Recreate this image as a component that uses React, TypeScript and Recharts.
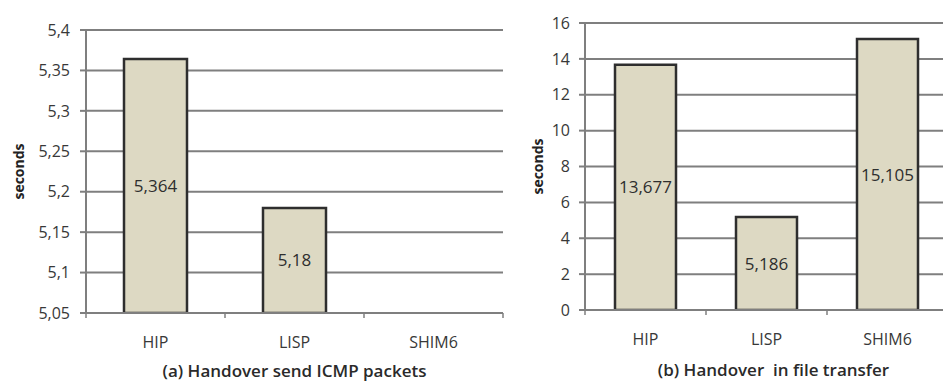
import { BarChart, Bar, XAxis, YAxis, CartesianGrid, LabelList } from "recharts";

const categories = ["HIP", "LISP", "SHIM6"];
const icmpSeconds = [5.364, 5.18, null];
const fileSeconds = [13.677, 5.186, 15.105];
const icmpTicks = [5.05, 5.1, 5.15, 5.2, 5.25, 5.3, 5.35, 5.4];
const fileTicks = [0, 2, 4, 6, 8, 10, 12, 14, 16];

const FONT = "'Open Sans', 'Liberation Sans', sans-serif";
const TEXT = "#383838";
const GRID = "#7f7f7f";

const comma = (v: any) => (v === null || v === undefined ? "" : String(v).replace(".", ","));

const CatTick = (props: any) => {
  const { x, y, payload, index, visibleTicksCount } = props;
  const half = payload?.offset ?? 0;
  return (
    <g>
      <line x1={x - half} x2={x - half} y1={y} y2={y + 5} stroke={GRID} strokeWidth={1.5} />
      {index === visibleTicksCount - 1 && (
        <line x1={x + half} x2={x + half} y1={y} y2={y + 5} stroke={GRID} strokeWidth={1.5} />
      )}
      <text x={x} y={y + 35} textAnchor="middle" fill={TEXT} fontSize={16} fontFamily={FONT}>
        {payload.value}
      </text>
    </g>
  );
};

const axisTitle = (dx: number) => (p: any) => {
  const vb = p.viewBox;
  const cx = vb.x + dx;
  const cy = vb.y + vb.height / 2;
  return (
    <text
      x={cx}
      y={cy}
      transform={`rotate(-90, ${cx}, ${cy})`}
      textAnchor="middle"
      dominantBaseline="central"
      fill="#222"
      fontSize={14}
      fontWeight="bold"
      fontFamily={FONT}
    >
      seconds
    </text>
  );
};

const caption = (text: string, shift: number, dy: number) => (p: any) => {
  const vb = p.viewBox;
  return (
    <text
      x={vb.x + vb.width / 2 + shift}
      y={vb.y + dy}
      textAnchor="middle"
      fill="#2a2a2a"
      fontSize={17}
      fontWeight={600}
      fontFamily={FONT}
      style={{ whiteSpace: "pre" }}
    >
      {text}
    </text>
  );
};

function Panel({
  values,
  ticks,
  domain,
  width,
  margin,
  xHeight,
  barSize,
  labelDx,
  tickMargin,
  title,
  titleShift,
  titleDy,
}: any) {
  const data = categories.map((c, i) => ({ name: c, value: values[i] }));
  return (
    <BarChart width={width} height={381} data={data} margin={margin} barCategoryGap={0}>
      <CartesianGrid vertical={false} stroke={GRID} strokeWidth={2} />
      <XAxis
        dataKey="name"
        height={xHeight}
        tickLine={false}
        tickSize={0}
        tickMargin={0}
        stroke={GRID}
        strokeWidth={2}
        tick={<CatTick />}
        interval={0}
        label={{ content: caption(title, titleShift, titleDy) }}
      />
      <YAxis
        width={72}
        domain={domain}
        ticks={ticks}
        allowDataOverflow
        interval={0}
        stroke={GRID}
        strokeWidth={2}
        tickSize={6}
        tickMargin={tickMargin}
        tickFormatter={comma}
        tick={{ fill: TEXT, fontSize: 16, fontFamily: FONT }}
        label={{ content: axisTitle(labelDx) }}
      />
      <Bar
        dataKey="value"
        fill="#ddd9c3"
        stroke="#2e2e2e"
        strokeWidth={2.5}
        barSize={barSize}
        isAnimationActive={false}
      >
        <LabelList
          dataKey="value"
          position="center"
          formatter={comma}
          fill="#2e2e2e"
          fontSize={17}
          fontFamily={FONT}
        />
      </Bar>
    </BarChart>
  );
}

export default function App() {
  return (
    <div
      style={{
        position: "absolute",
        left: 0,
        top: 0,
        width: 943,
        height: 381,
        overflow: "hidden",
        background: "#fff",
      }}
    >
      <div style={{ position: "absolute", left: 0, top: 0 }}>
        <Panel
          values={icmpSeconds}
          ticks={icmpTicks}
          domain={[5.05, 5.4]}
          width={510}
          margin={{ top: 30, right: 7, bottom: 0, left: 14 }}
          xHeight={68}
          barSize={63}
          labelDx={4}
          tickMargin={10}
          title="(a) Handover send ICMP packets"
          titleShift={0}
          titleDy={64}
        />
      </div>
      <div style={{ position: "absolute", left: 510, top: 0 }}>
        <Panel
          values={fileSeconds}
          ticks={fileTicks}
          domain={[0, 16]}
          width={438}
          margin={{ top: 23, right: 0, bottom: 0, left: 3 }}
          xHeight={71}
          barSize={61}
          labelDx={24}
          tickMargin={9}
          title="(b) Handover  in file transfer"
          titleShift={7}
          titleDy={66}
        />
      </div>
    </div>
  );
}
